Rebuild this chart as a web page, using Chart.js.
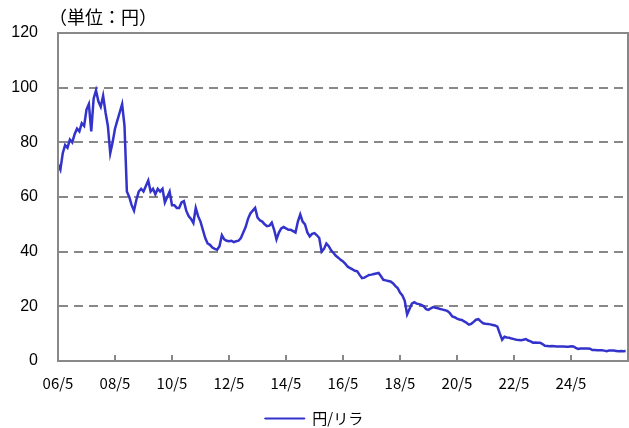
<!DOCTYPE html>
<html>
<head>
<meta charset="utf-8">
<script src="https://cdn.jsdelivr.net/npm/chart.js@4"></script>
<style>
  html, body { margin: 0; padding: 0; background: #fff; }
  #wrap { width: 629px; height: 428px; }
</style>
</head>
<body>
<div id="wrap"><canvas id="rateChart"></canvas></div>
<script>
// month offsets start at 2006/5
const startLabel = '2006/5';
const xTickLabels = ['06/5', '08/5', '10/5', '12/5', '14/5', '16/5', '18/5', '20/5', '22/5', '24/5'];
const seriesName = '円/リラ';
const unitLabel = '（単位：円）';

// monthly JPY per TRY
const rates = [
    72, 70, 76, 79, 78, 81, 80, 83, 85, 84, 87, 86,
    92, 94, 84, 96, 99, 95, 93, 97, 91, 86, 76, 80,
    85, 88, 91, 94, 86, 62, 60, 57, 55, 59, 62, 63,
    62, 64, 66, 62, 63, 61, 63, 62, 63, 58, 60, 62,
    57, 57, 56, 56, 58, 58.5, 55, 53, 52, 50.5, 56, 53,
    51, 48, 45, 43, 42.5, 41.5, 41, 40.7, 42, 46, 44.5, 44,
    43.8, 44, 43.5, 43.8, 44, 45, 47, 49, 52, 54, 55, 56,
    52.5, 51.5, 51, 50, 49.3, 49.5, 50.6, 48, 44.5, 47, 48.5, 49,
    48.5, 48, 48, 47.5, 47, 51, 53.6, 51, 50, 47, 45.6, 46.5,
    46.8, 46, 45, 40, 41, 43, 42, 40.5, 39.5, 38.5, 37.8, 37,
    36.4, 35.5, 34.5, 34, 33.5, 33, 32.8, 31.5, 30.3, 30.5, 31, 31.5,
    31.6, 31.8, 32, 32.2, 31, 29.7, 29.5, 29.3, 29.1, 28.5, 27.5, 26.7,
    25, 24, 22, 17, 19, 21, 21.5, 21, 20.8, 20.5, 20, 19,
    18.7, 19.3, 19.7, 19.5, 19.3, 19, 18.8, 18.6, 18.3, 17.5, 16.3, 16,
    15.5, 15.2, 15, 14.5, 14, 13.3, 13.6, 14.3, 15.1, 15.3, 14.5, 13.8,
    13.6, 13.5, 13.4, 13.2, 13, 12.6, 10.1, 7.8, 8.9, 8.6, 8.5, 8.2,
    8.0, 7.8, 7.7, 7.6, 7.8, 8.0, 7.5, 7.2, 6.7, 6.8, 6.7, 6.7,
    6.2, 5.6, 5.5, 5.4, 5.5, 5.4, 5.3, 5.3, 5.3, 5.3, 5.2, 5.2,
    5.4, 5.3, 4.8, 4.4, 4.6, 4.6, 4.6, 4.6, 4.5, 4.0, 4.0, 3.9,
    3.9, 3.9, 3.8, 3.6, 3.8, 3.8, 3.8, 3.7, 3.6, 3.7, 3.6, 3.7
];

const AXIS_GRAY = '#888888';
const LINE_BLUE = '#3333cc';
const jpFont = '"Noto Sans CJK JP", "Noto Sans", sans-serif';

// box around the plot + short inward ticks on the x axis + unit label
const framePlugin = {
    id: 'framePlugin',
    afterDraw: chart => {
        const { ctx, chartArea } = chart;
        const xScale = chart.scales.x;
        ctx.save();
        ctx.strokeStyle = AXIS_GRAY;
        ctx.lineWidth = 2;
        ctx.setLineDash([]);
        ctx.strokeRect(chartArea.left, chartArea.top, chartArea.right - chartArea.left, chartArea.bottom - chartArea.top);
        ctx.beginPath();
        xScale.ticks.forEach(t => {
            const px = Math.round(xScale.getPixelForValue(t.value));
            ctx.moveTo(px, chartArea.bottom);
            ctx.lineTo(px, chartArea.bottom - 6);
        });
        ctx.stroke();
        ctx.fillStyle = '#000';
        ctx.font = '18px ' + jpFont;
        ctx.textBaseline = 'middle';
        ctx.fillText(unitLabel, 49, 17);
        ctx.restore();
    }
};

const points = rates.map((v, i) => ({ x: i, y: v }));

new Chart(document.getElementById('rateChart'), {
    type: 'line',
    plugins: [framePlugin],
    data: {
        datasets: [{
            label: seriesName,
            data: points,
            borderColor: LINE_BLUE,
            backgroundColor: LINE_BLUE,
            borderWidth: 2.5,
            pointRadius: 0,
            tension: 0
        }]
    },
    options: {
        animation: false,
        responsive: true,
        maintainAspectRatio: false,
        layout: { padding: { top: 33, right: 1, left: 0, bottom: 0 } },
        plugins: {
            legend: {
                position: 'bottom',
                maxHeight: 17,
                labels: {
                    boxWidth: 40,
                    boxHeight: 1,
                    padding: 0,
                    color: '#000',
                    font: { family: jpFont, size: 15 },
                    generateLabels: chart => Chart.defaults.plugins.legend.labels.generateLabels(chart)
                        .map(l => Object.assign(l, { lineWidth: 1 }))
                }
            },
            tooltip: { enabled: false }
        },
        scales: {
            x: {
                type: 'linear',
                min: 0,
                max: 240,
                afterFit: scale => {
                    scale.height = 50;
                    scale.paddingLeft = 0;
                    scale.paddingRight = 0;
                },
                ticks: {
                    stepSize: 24,
                    autoSkip: false,
                    maxRotation: 0,
                    padding: 13,
                    color: '#000',
                    font: { family: jpFont, size: 15 },
                    callback: v => xTickLabels[v / 24] || ''
                },
                grid: { display: false, drawTicks: false },
                border: { display: true, color: AXIS_GRAY, width: 2 }
            },
            y: {
                min: 0,
                max: 120,
                afterFit: scale => { scale.width = 58; },
                ticks: {
                    stepSize: 20,
                    padding: 20,
                    color: '#000',
                    font: { family: '"Liberation Sans", Arial, sans-serif', size: 16 }
                },
                grid: { color: AXIS_GRAY, lineWidth: 2, drawTicks: false },
                border: { display: true, color: AXIS_GRAY, width: 2, dash: [9, 6] }
            }
        }
    }
});
</script>
</body>
</html>
